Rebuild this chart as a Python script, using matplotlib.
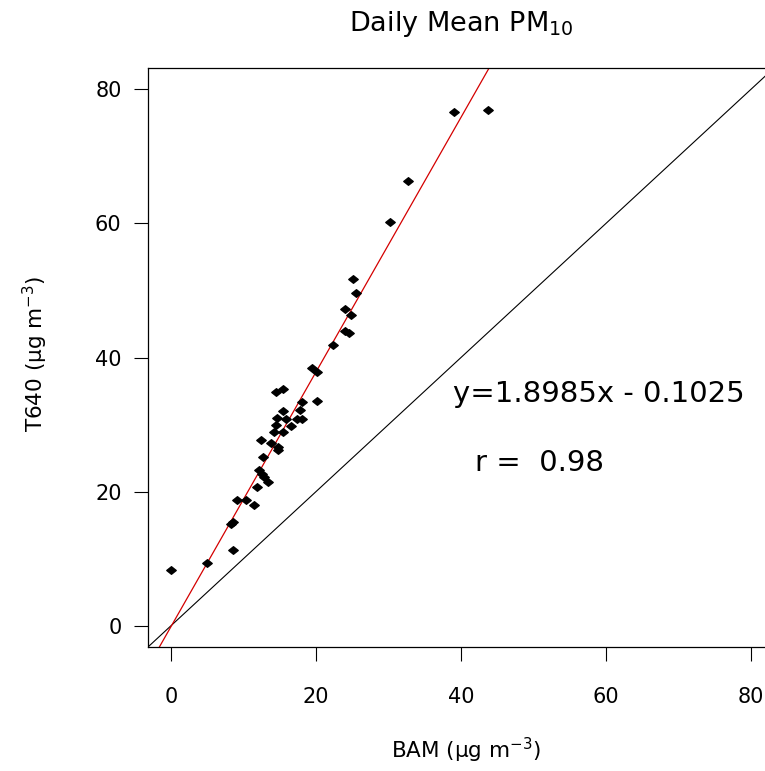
import numpy as np
import matplotlib
matplotlib.use("Agg")
import matplotlib.pyplot as plt
from matplotlib.path import Path

plt.rcParams['font.family'] = ['DejaVu Sans']
plt.rcParams['mathtext.fontset'] = 'dejavusans'

# daily means (BAM vs T640, ug m-3)
bam = [19.5, 20.1, 20.1, 14.4, 15.4, 18.1, 15.4, 17.8, 14.6, 15.8,
       17.4, 18.0, 14.4, 16.6, 14.2, 15.4, 12.4, 13.8, 14.7, 14.8,
       12.7, 12.1, 12.6, 12.8, 13.3, 11.8, 9.1, 10.3, 11.4, 8.6,
       8.2, 8.6, 5.0, 0.0, 39.1, 43.7, 32.7, 30.2, 25.1, 25.5,
       24.0, 24.8, 24.0, 24.5, 22.4]
t640 = [38.4, 37.8, 33.5, 34.9, 35.3, 33.4, 32.0, 32.2, 30.9, 30.8,
        30.8, 30.8, 29.9, 29.8, 28.9, 28.9, 27.7, 27.3, 26.6, 26.2,
        25.2, 23.2, 22.6, 22.2, 21.4, 20.7, 18.8, 18.7, 18.0, 15.5,
        15.2, 11.3, 9.4, 8.3, 76.6, 76.9, 66.4, 60.2, 51.7, 49.6,
        47.3, 46.4, 44.0, 43.7, 41.8]

slope = 1.8985
intercept = -0.1025
r_value = 0.98
ticks = [0, 20, 40, 60, 80]

# R's pch=18 style diamond, a bit wider than tall
diamond = Path([(-1, 0), (0, 0.8), (1, 0), (0, -0.8), (-1, 0)],
               [Path.MOVETO, Path.LINETO, Path.LINETO, Path.LINETO, Path.CLOSEPOLY])

fig = plt.figure(figsize=(7.65, 7.71), dpi=100)
ax = fig.add_axes([148 / 765, 1 - 647 / 771, 626 / 765, 579 / 771])

lim = (-3.2, 83.2)
ax.set_xlim(lim)
ax.set_ylim(lim)

xx = np.array(lim)
ax.plot(xx, xx, color='black', lw=0.8)
ax.plot(xx, slope * xx + intercept, color='#d40000', lw=0.9)
ax.plot(bam, t640, linestyle='none', marker=diamond, ms=6.8, color='black')

ax.set_xticks(ticks)
ax.set_yticks(ticks)
ax.tick_params(axis='both', direction='out', length=10, width=0.8, labelsize=15)
ax.tick_params(axis='x', pad=19)
ax.tick_params(axis='y', pad=9)
for s in ax.spines.values():
    s.set_linewidth(0.9)

ax.set_xlabel('BAM (µg m$^{-3}$)', fontsize=15.5)
ax.set_ylabel('T640 (µg m$^{-3}$)', fontsize=15.5)
ax.xaxis.label.set_va('center')
ax.yaxis.label.set_va('center')
ax.xaxis.set_label_coords((466 - 148) / 626, (647 - 750) / 579)
ax.yaxis.set_label_coords((35 - 148) / 626, (647 - 354) / 579)

fig.text(461 / 765, 1 - 24 / 771, 'Daily Mean PM$_{10}$', fontsize=19.5,
         ha='center', va='center')

ax.text(38.9, 33.3, f'y={slope}x - {abs(intercept)}', fontsize=21,
        ha='left', va='baseline')
ax.text(41.9, 23.1, f'r =  {r_value}', fontsize=21, ha='left', va='baseline')

fig.savefig('out.png', dpi=100)
